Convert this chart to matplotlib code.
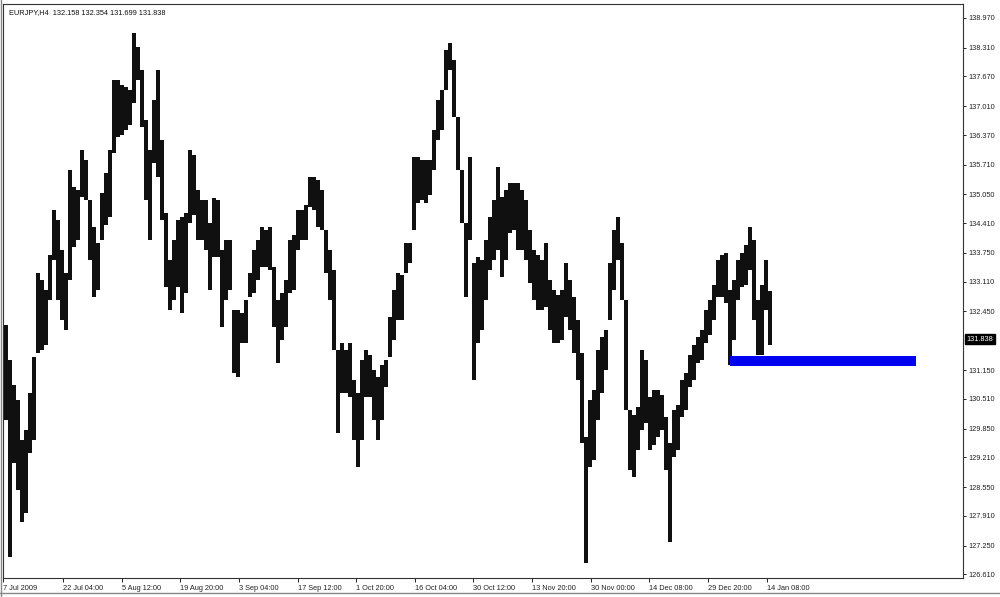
import matplotlib
matplotlib.use("Agg")
import matplotlib.pyplot as plt
from matplotlib.transforms import blended_transform_factory

# header of the chart window
symbol = "EURJPY,H4"
last_ohlc = [132.158, 132.354, 131.699, 131.838]

# high / low, one pair for every 4 H4 bars
bar_high = [
    132.15, 131.37, 130.81, 130.48, 129.59, 129.81, 130.64, 131.44, 133.30, 133.15, 132.93, 133.70,
    134.70, 134.48, 133.81, 133.30, 135.59, 135.21, 135.15, 136.04, 135.81, 134.93, 134.33, 133.97,
    135.08, 135.53, 136.04, 137.59, 137.59, 137.48, 137.44, 137.37, 138.64, 138.33, 137.81, 136.70,
    136.04, 137.15, 137.81, 136.26, 134.64, 133.59, 134.04, 134.48, 134.55, 134.64, 136.04, 135.93,
    135.15, 134.93, 134.93, 134.41, 134.97, 134.93, 133.81, 134.04, 134.04, 132.48, 132.48, 132.41,
    132.70, 133.30, 133.81, 134.04, 134.33, 134.26, 134.33, 133.44, 132.70, 132.86, 133.15, 134.04,
    134.15, 134.70, 134.70, 134.81, 135.44, 135.44, 135.37, 135.15, 134.26, 133.81, 133.37, 131.59,
    131.75, 131.59, 131.75, 130.93, 130.64, 131.37, 131.59, 131.48, 131.15, 130.99, 131.26, 131.37,
    132.33, 132.93, 133.30, 133.26, 133.97, 133.97, 135.88, 135.88, 135.81, 135.81, 135.81, 136.48,
    137.15, 137.37, 138.26, 138.41, 138.04, 136.77, 135.59, 134.41, 135.88, 133.53, 133.66, 133.59,
    134.04, 134.55, 134.93, 135.66, 134.99, 135.15, 135.30, 135.30, 135.30, 135.15, 134.93, 134.26,
    133.81, 133.70, 133.59, 133.97, 133.15, 132.93, 132.81, 132.93, 133.53, 133.15, 132.77, 132.26,
    131.53, 129.66, 130.48, 130.70, 131.59, 131.88, 132.04, 133.53, 134.26, 134.55, 133.97, 132.70,
    130.26, 130.15, 130.33, 131.59, 131.37, 130.55, 130.70, 130.70, 130.59, 130.10, 129.53, 130.26,
    130.37, 130.93, 131.08, 131.48, 131.70, 131.88, 132.04, 132.48, 132.70, 133.04, 133.59, 133.70,
    133.75, 132.93, 133.15, 133.59, 133.75, 133.93, 134.33, 134.04, 132.70, 133.04, 133.59, 132.90,
]
bar_low = [
    130.04, 126.99, 129.08, 128.48, 127.77, 127.97, 129.30, 129.59, 131.53, 131.59, 131.70, 132.70,
    133.59, 132.70, 132.26, 132.04, 133.15, 133.88, 134.04, 134.99, 134.93, 133.59, 132.77, 132.93,
    134.04, 134.37, 134.55, 135.97, 136.33, 136.37, 136.48, 136.59, 137.08, 137.59, 136.55, 134.93,
    134.04, 135.75, 135.44, 134.48, 132.99, 132.48, 132.70, 132.99, 132.41, 132.86, 134.41, 134.59,
    134.04, 134.04, 133.81, 132.93, 133.66, 133.66, 132.10, 132.70, 132.93, 131.08, 130.99, 131.75,
    131.75, 132.77, 132.86, 133.15, 133.44, 133.44, 133.37, 132.10, 131.30, 131.81, 132.10, 132.86,
    132.93, 133.81, 134.04, 134.04, 134.77, 134.70, 134.33, 134.26, 133.30, 132.70, 131.59, 129.75,
    130.64, 130.64, 130.55, 129.59, 128.99, 129.59, 130.55, 130.55, 130.04, 129.59, 130.04, 130.77,
    131.44, 131.81, 132.26, 132.26, 133.30, 133.53, 134.26, 134.86, 134.93, 134.86, 135.04, 135.59,
    136.26, 136.48, 137.37, 137.81, 136.77, 135.59, 134.41, 132.77, 134.04, 130.93, 131.75, 132.04,
    132.70, 133.37, 133.59, 133.81, 133.21, 133.59, 134.19, 134.26, 133.81, 133.81, 133.59, 133.08,
    132.70, 132.48, 132.48, 132.55, 132.04, 131.75, 131.75, 131.81, 132.33, 132.04, 131.53, 130.93,
    129.53, 126.86, 128.99, 129.15, 130.04, 130.64, 131.15, 132.26, 132.93, 133.59, 132.70, 130.26,
    128.93, 128.77, 129.37, 129.81, 129.97, 129.37, 129.48, 129.66, 129.81, 128.93, 127.33, 129.21,
    129.37, 130.10, 130.26, 130.77, 130.93, 131.30, 131.37, 131.75, 131.93, 132.26, 132.77, 132.77,
    132.64, 131.26, 131.81, 132.70, 132.99, 133.04, 133.37, 132.26, 131.48, 131.48, 132.48, 131.70,
]
bars_per_step = 4

date_labels = ["7 Jul 2009", "22 Jul 04:00", "5 Aug 12:00", "19 Aug 20:00", "3 Sep 04:00",
               "17 Sep 12:00", "1 Oct 20:00", "16 Oct 04:00", "30 Oct 12:00", "13 Nov 20:00",
               "30 Nov 00:00", "14 Dec 08:00", "29 Dec 20:00", "14 Jan 08:00"]
date_bars = [0, 60, 119, 177, 236, 295, 353, 412, 470, 529, 588, 646, 705, 764]

price_ticks = [138.970, 138.310, 137.670, 137.010, 136.370, 135.710, 135.050, 134.410,
               133.750, 133.110, 132.450, 131.150, 130.510, 129.850, 129.210, 128.550,
               127.910, 127.250, 126.610]

# blue zone drawn on the chart
zone_bars = (727, 913)
zone_prices = (131.24, 131.46)

fig = plt.figure(figsize=(10, 5.97), dpi=100)
ax = fig.add_axes([0.003, 0.0318, 0.96, 0.9615])

x = [bars_per_step * i + 3 for i in range(len(bar_high))]
heights = [h - l for h, l in zip(bar_high, bar_low)]
ax.bar(x, heights, bottom=bar_low, width=bars_per_step, color="#101010", linewidth=0)

ax.fill_between(zone_bars, zone_prices[0], zone_prices[1], color="#0000f0", linewidth=0)

ax.set_xlim(0, 960)
ax.set_ylim(126.53, 139.28)

font = "Liberation Sans"
ax.yaxis.tick_right()
ax.set_yticks(price_ticks)
ax.set_yticklabels([f"{p:.3f}" for p in price_ticks], fontsize=5.3, family=font, color="#222222")
ax.tick_params(axis="y", length=2, pad=2, width=0.6)

ax.set_xticks(date_bars)
ax.set_xticklabels(date_labels, fontsize=5.3, family=font, ha="left", color="#222222")
ax.tick_params(axis="x", length=3, pad=2, width=0.6)

for s in ax.spines.values():
    s.set_linewidth(0.8)
    s.set_color("#333333")

trans = blended_transform_factory(ax.transAxes, ax.transData)
ax.text(1.004, last_ohlc[3], f"{last_ohlc[3]:.3f}", transform=trans, fontsize=5.3, family=font,
        color="white", va="center", ha="left",
        bbox=dict(facecolor="black", edgecolor="black", pad=1.2))

ax.text(0.006, 0.992, f"{symbol}  " + " ".join(f"{v:.3f}" for v in last_ohlc),
        transform=ax.transAxes, fontsize=5.3, family=font, va="top", ha="left", color="#111111")

fig.add_artist(plt.Line2D([0.001, 0.001], [0, 1], transform=fig.transFigure, color="#888888", lw=1))
fig.add_artist(plt.Line2D([0, 1], [0.007, 0.007], transform=fig.transFigure, color="#888888", lw=1))

fig.savefig("out.png", dpi=100)
